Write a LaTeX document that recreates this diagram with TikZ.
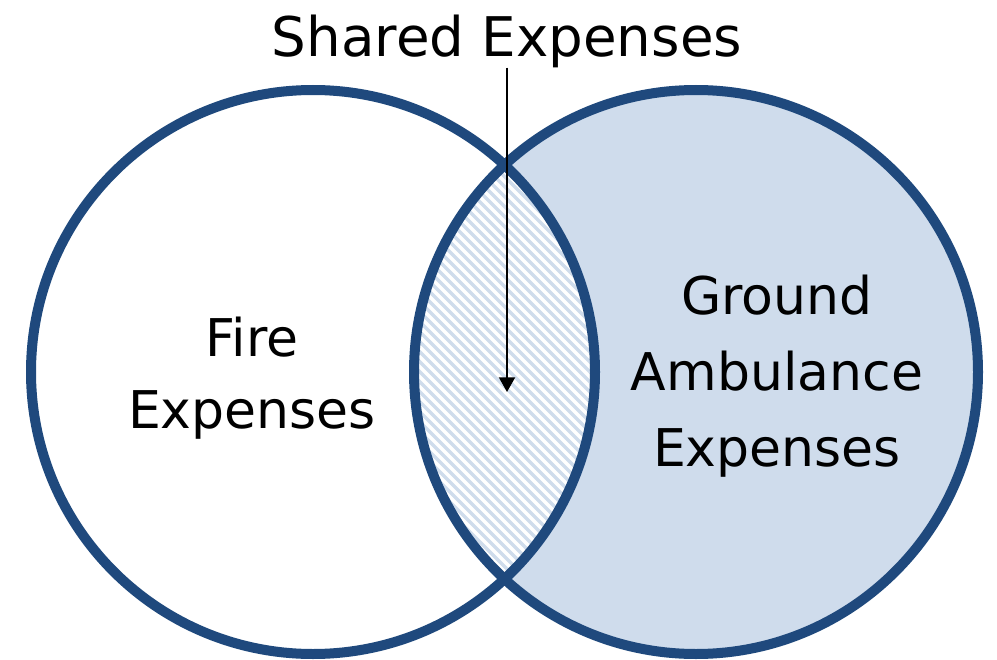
\documentclass[tikz,border=0pt]{standalone}
\usepackage{fontspec}
\setmainfont{DejaVu Sans}
\usepackage{tikz}
\usetikzlibrary{arrows.meta}
\definecolor{vennblue}{HTML}{1F497D}
\definecolor{vennfill}{HTML}{CFDCEC}

\begin{document}
\begin{tikzpicture}[x=.75pt,y=-.75pt,
  ring/.style={draw=vennblue, line width=7.5pt},
  hatch/.style={draw=vennfill, line width=2.4pt},
  txt/.style={align=center, inner sep=0pt, font=\fontsize{39}{54}\selectfont}]
  \useasboundingbox (0,0) rectangle (997,660);
  \coordinate (firec) at (313,372);
  \coordinate (ambc) at (696,372);
  \fill[vennfill] (ambc) circle (282);
  \begin{scope}
    \clip (firec) circle (282);
    \clip (ambc) circle (282);
    \fill[white] (380,120) rectangle (630,620);
    \foreach \k in {-10,...,60} \draw[hatch] (\k*10,122) -- ++(500,500);
  \end{scope}
  \draw[ring] (firec) circle (282);
  \draw[ring] (ambc) circle (282);
  \node[txt] at (252,378) (fire) {Fire\\Expenses};
  \node[txt, font=\fontsize{39}{57}\selectfont] at (777,376) (ground) {Ground\\Ambulance\\Expenses};
  \node[txt, font=\fontsize{41}{54}\selectfont] at (507,41) (shared) {Shared Expenses};
  \coordinate (lens) at (507,392);
  \draw[line width=1.5pt, -{Triangle[length=11pt,width=12pt]}] (shared) -- (lens);
\end{tikzpicture}
\end{document}
